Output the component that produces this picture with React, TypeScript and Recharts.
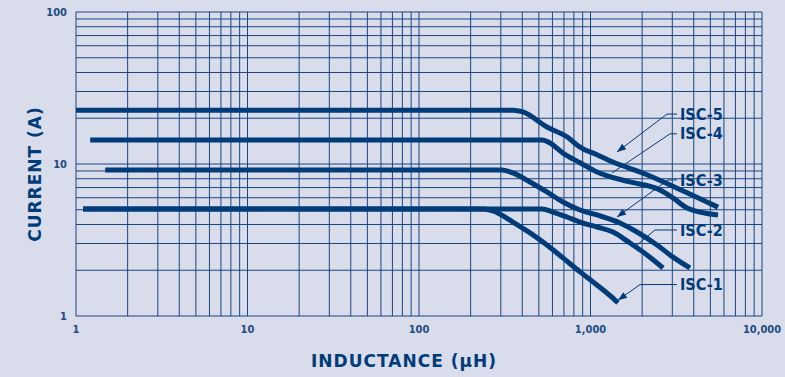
import { LineChart, Line, XAxis, YAxis, ReferenceLine, ReferenceDot } from 'recharts';

// inductance (µH) vs saturation current (A)
const isc5 = [
  { L: 1, I: 22.6 }, { L: 353, I: 22.6 }, { L: 404, I: 22.0 }, { L: 557, I: 17.5 },
  { L: 729, I: 15.1 }, { L: 869, I: 12.9 }, { L: 1091, I: 11.5 }, { L: 1352, I: 10.3 },
  { L: 2135, I: 8.5 }, { L: 3326, I: 6.8 }, { L: 5539, I: 5.2 },
];
const isc4 = [
  { L: 1.21, I: 14.4 }, { L: 522, I: 14.4 }, { L: 581, I: 13.75 }, { L: 691, I: 11.8 },
  { L: 869, I: 10.2 }, { L: 1091, I: 8.86 }, { L: 1700, I: 7.62 }, { L: 2543, I: 6.75 },
  { L: 3028, I: 5.98 }, { L: 3653, I: 5.14 }, { L: 5539, I: 4.62 },
];
const isc3 = [
  { L: 1.48, I: 9.14 }, { L: 305, I: 9.14 }, { L: 353, I: 8.73 }, { L: 444, I: 7.62 },
  { L: 557, I: 6.55 }, { L: 691, I: 5.62 }, { L: 869, I: 4.98 }, { L: 1091, I: 4.62 },
  { L: 1486, I: 4.09 }, { L: 1867, I: 3.57 }, { L: 2443, I: 2.93 }, { L: 3028, I: 2.44 },
  { L: 3802, I: 2.07 },
];
const isc2 = [
  { L: 1.1, I: 5.06 }, { L: 522, I: 5.06 }, { L: 604, I: 4.83 }, { L: 729, I: 4.48 },
  { L: 869, I: 4.15 }, { L: 1091, I: 3.85 }, { L: 1352, I: 3.57 }, { L: 1700, I: 3.02 },
  { L: 2135, I: 2.52 }, { L: 2649, I: 2.07 },
];
const isc1 = [
  { L: 1.1, I: 5.06 }, { L: 240, I: 5.06 }, { L: 270, I: 4.91 }, { L: 353, I: 4.15 },
  { L: 444, I: 3.52 }, { L: 557, I: 2.93 }, { L: 691, I: 2.41 }, { L: 869, I: 1.95 },
  { L: 1091, I: 1.6 }, { L: 1352, I: 1.31 }, { L: 1446, I: 1.22 },
];

const xTicks = [1, 10, 100, 1000, 10000];
const yTicks = [1, 10, 100];
const xGrid = [
  1, 2, 3, 4, 5, 6, 7, 8, 9,
  10, 20, 30, 40, 50, 60, 70, 80, 90,
  100, 200, 300, 400, 500, 600, 700, 800, 900,
  1000, 2000, 3000, 4000, 5000, 6000, 7000, 8000, 9000,
  10000,
];
const yGrid = [
  1, 2, 3, 4, 5, 6, 7, 8, 9,
  10, 20, 30, 40, 50, 60, 70, 80, 90,
  100,
];

// label anchor, elbow of the leader and the point it touches on the curve
const callouts = [
  { name: 'ISC-5', labelL: 3326, labelI: 21.3, elbowL: 2793, tipL: 1428, tipI: 12.0, arrow: true },
  { name: 'ISC-4', labelL: 3326, labelI: 15.8, elbowL: 2909, tipL: 1334, tipI: 8.73, arrow: false },
  { name: 'ISC-3', labelL: 3326, labelI: 7.85, elbowL: 2832, tipL: 1428, tipI: 4.48, arrow: true },
  { name: 'ISC-2', labelL: 3326, labelI: 3.68, elbowL: 2377, tipL: 1867, tipI: 2.93, arrow: false },
  { name: 'ISC-1', labelL: 3326, labelI: 1.61, elbowL: 1944, tipL: 1446, tipI: 1.27, arrow: true },
];

const BLUE = '#003b7a';
const GRID = '#1a4681';

const ArrowLine = (props: any) => {
  const { x1, y1, x2, y2 } = props;
  const a = Math.atan2(y2 - y1, x2 - x1);
  const len = 9;
  const w = 3.5;
  const bx = x2 - len * Math.cos(a);
  const by = y2 - len * Math.sin(a);
  const pts = `${x2},${y2} ${bx - w * Math.sin(a)},${by + w * Math.cos(a)} ${bx + w * Math.sin(a)},${by - w * Math.cos(a)}`;
  return (
    <g>
      <line x1={x1} y1={y1} x2={x2} y2={y2} stroke={BLUE} strokeWidth={1} />
      <polygon points={pts} fill={BLUE} />
    </g>
  );
};

const tickStyle = { fontSize: 11, fontWeight: 'bold', fill: '#1f4b82', fontFamily: '"DejaVu Sans Condensed", "DejaVu Sans", sans-serif' };
const titleStyle = { fontSize: 17, fontWeight: 'bold', fill: BLUE, fontFamily: '"DejaVu Sans", sans-serif', letterSpacing: 1 };

export default function App() {
  return (
    <div style={{ position: 'absolute', left: 0, top: 0, width: 785, height: 377, background: '#d9dcea' }}>
      <LineChart width={785} height={377} margin={{ top: 12, right: 23, bottom: 5, left: 0 }}>
        <XAxis
          dataKey="L"
          type="number"
          scale="log"
          domain={[1, 10000]}
          ticks={xTicks}
          allowDataOverflow
          axisLine={false}
          tickLine={false}
          tickSize={0}
          tickMargin={9}
          height={56}
          tick={tickStyle}
          tickFormatter={(v: number) => v.toLocaleString('en-US')}
          label={{ value: 'INDUCTANCE (μH)', position: 'insideBottom', offset: 5, dx: -15, ...titleStyle }}
        />
        <YAxis
          dataKey="I"
          type="number"
          scale="log"
          domain={[1, 100]}
          ticks={yTicks}
          allowDataOverflow
          axisLine={false}
          tickLine={false}
          tickSize={0}
          tickMargin={9}
          width={76}
          tick={tickStyle}
          label={{ value: 'CURRENT (A)', angle: -90, position: 'center', dx: -3, dy: 10, ...titleStyle }}
        />
        {xGrid.map((v) => (
          <ReferenceLine key={`gx${v}`} x={v} stroke={GRID} strokeWidth={1} ifOverflow="visible" />
        ))}
        {yGrid.map((v) => (
          <ReferenceLine key={`gy${v}`} y={v} stroke={GRID} strokeWidth={1} ifOverflow="visible" />
        ))}
        <Line data={isc5} dataKey="I" type="monotone" stroke={BLUE} strokeWidth={5} dot={false} isAnimationActive={false} />
        <Line data={isc4} dataKey="I" type="monotone" stroke={BLUE} strokeWidth={5} dot={false} isAnimationActive={false} />
        <Line data={isc3} dataKey="I" type="monotone" stroke={BLUE} strokeWidth={5} dot={false} isAnimationActive={false} />
        <Line data={isc2} dataKey="I" type="monotone" stroke={BLUE} strokeWidth={5} dot={false} isAnimationActive={false} />
        <Line data={isc1} dataKey="I" type="monotone" stroke={BLUE} strokeWidth={5} dot={false} isAnimationActive={false} />
        {callouts.map((c) => (
          <ReferenceLine
            key={`h${c.name}`}
            segment={[{ x: c.elbowL, y: c.labelI }, { x: c.labelL * 0.96, y: c.labelI }]}
            stroke={BLUE}
            strokeWidth={1}
            ifOverflow="visible"
          />
        ))}
        {callouts.map((c) => (
          <ReferenceLine
            key={`d${c.name}`}
            segment={[{ x: c.elbowL, y: c.labelI }, { x: c.tipL, y: c.tipI }]}
            stroke={BLUE}
            strokeWidth={1}
            ifOverflow="visible"
            shape={c.arrow ? ArrowLine : undefined}
          />
        ))}
        {callouts.map((c) => (
          <ReferenceDot
            key={`l${c.name}`}
            x={c.labelL}
            y={c.labelI}
            r={0}
            stroke="none"
            fill="none"
            ifOverflow="visible"
            label={{
              value: c.name,
              position: 'right',
              offset: 0,
              fill: BLUE,
              fontSize: 16,
              fontWeight: 'bold',
              fontFamily: '"DejaVu Sans Condensed", "DejaVu Sans", sans-serif',
            }}
          />
        ))}
      </LineChart>
    </div>
  );
}
